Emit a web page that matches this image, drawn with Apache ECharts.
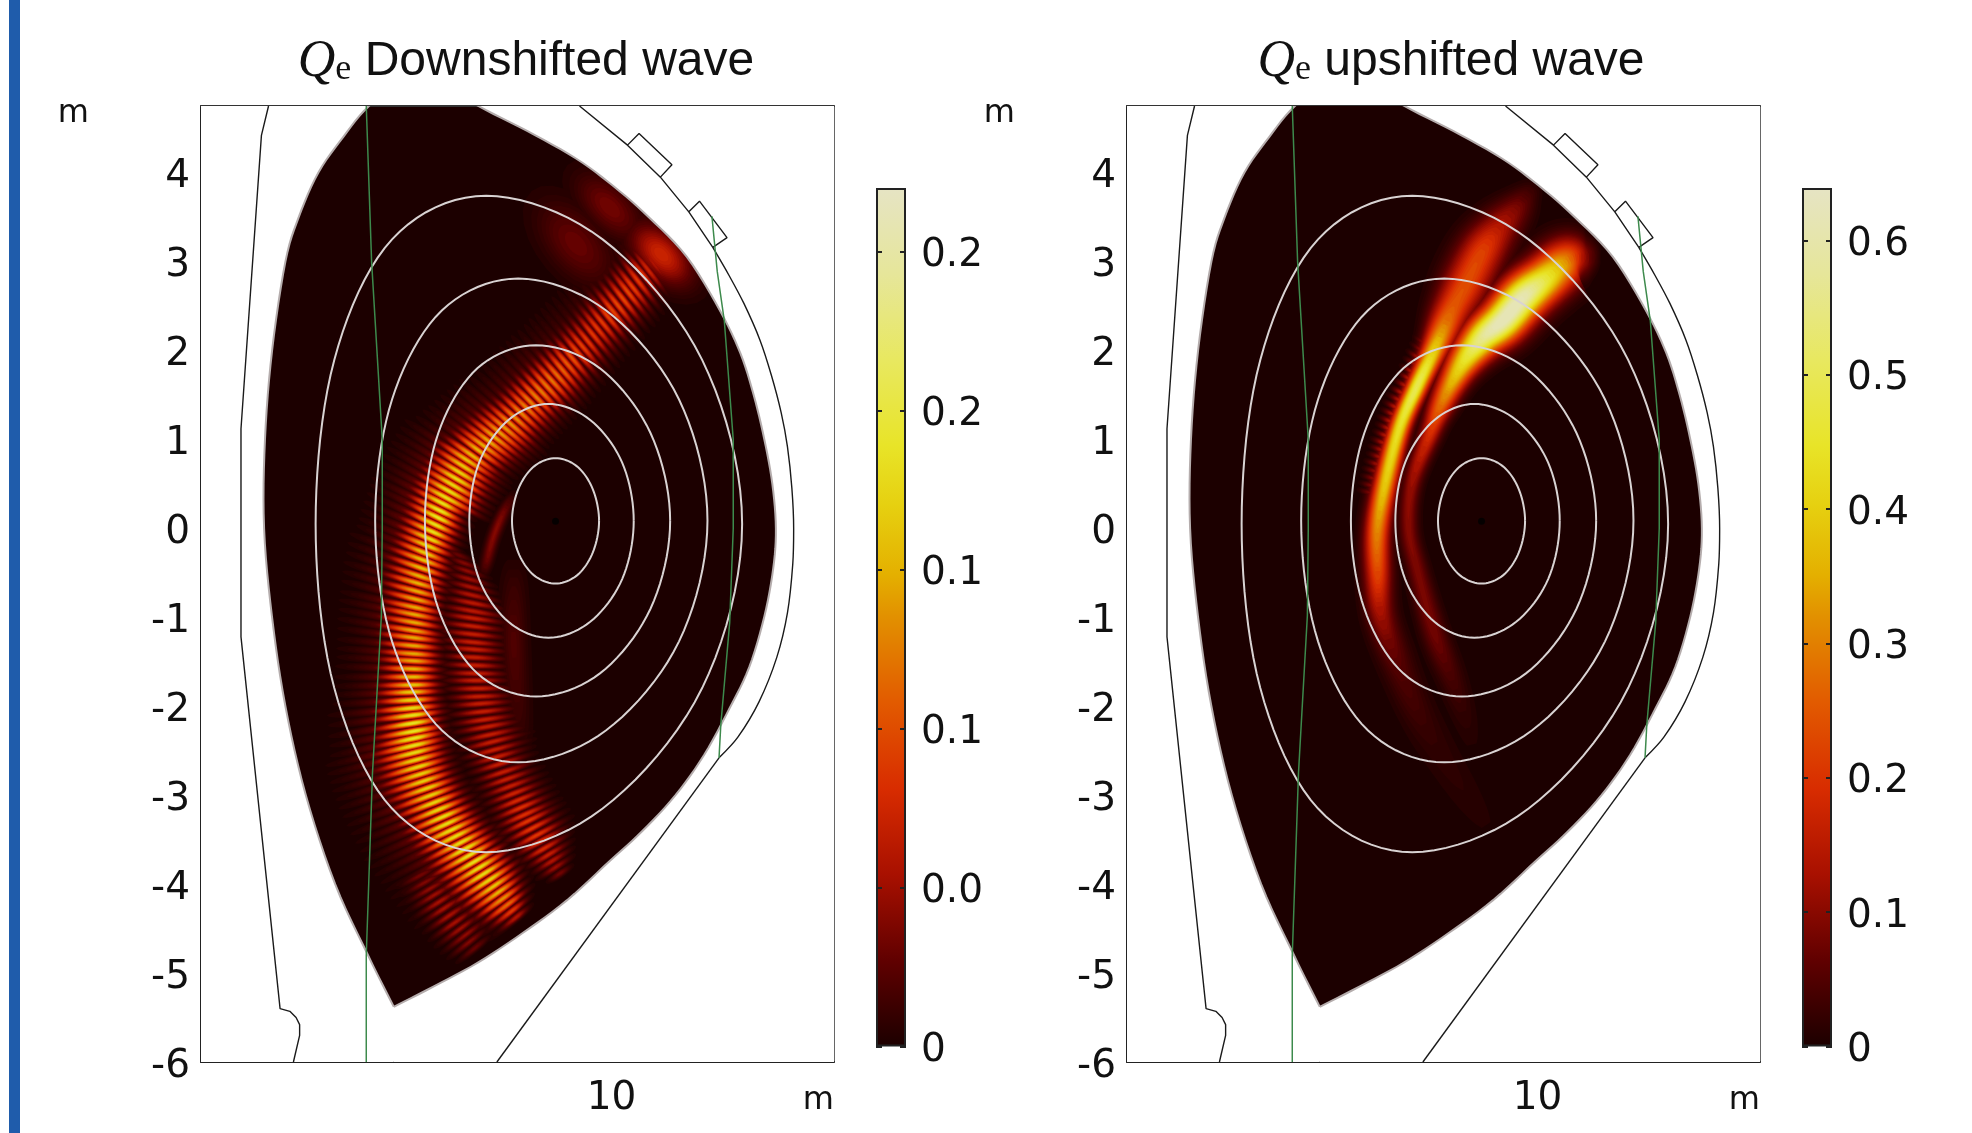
<!DOCTYPE html>
<html><head><meta charset="utf-8">
<style>html,body{margin:0;padding:0;background:#fff}#c{width:1972px;height:1133px}</style>
<script src="https://cdn.jsdelivr.net/npm/echarts@6/dist/echarts.min.js"></script>
</head><body><div id="c"></div>
<script>
// ---------- axis ticks ----------
const yTicks = [-6,-5,-4,-3,-2,-1,0,1,2,3,4];
const xTicks = [10];
const leftBarTicks = [0,0.05,0.1,0.15,0.2,0.25];
const leftBarLabels = ['0','0.0','0.1','0.1','0.2','0.2'];
const rightBarTicks = [0,0.1,0.2,0.3,0.4,0.5,0.6];
const rightBarLabels = ['0','0.1','0.2','0.3','0.4','0.5','0.6'];
const leftTitle = ' Downshifted wave';
const rightTitle = ' upshifted wave';

// ---------- colour scale [fraction, colour] ----------
const heatStops = [[0,'#1c0000'],[.1,'#600000'],[.2,'#a81000'],[.3,'#d82c00'],[.4,'#e25a00'],[.5,'#e29000'],[.55,'#e4b000'],[.63,'#e6d010'],[.7,'#e8e428'],[.8,'#e8e860'],[.9,'#e6e69a'],[1,'#e6e4c4']];

// ---------- geometry [R, Z] in metres ----------
const plasmaBoundary = [[7.55,-5.38],[7.26,-4.8],[6.89,-4],[6.56,-3],[6.33,-2],[6.18,-1],[6.09,0],[6.1,1],[6.18,2],[6.33,3],[6.48,3.5],[6.7,4],[6.98,4.4],[7.27,4.75],[7.75,5.12],[8.1,5],[8.5,4.75],[9.05,4.47],[9.6,4.16],[10.02,3.85],[10.42,3.5],[10.85,3.05],[11.22,2.45],[11.45,1.97],[11.6,1.5],[11.72,1],[11.81,.5],[11.85,0],[11.82,-.45],[11.72,-.99],[11.55,-1.56],[11.33,-2.02],[11.04,-2.55],[10.72,-3],[10.35,-3.4],[9.98,-3.74],[9.5,-4.18],[9,-4.55],[8.5,-4.88],[8,-5.15],[7.55,-5.38]];
const wallWithPorts = [[9.64,4.75],[10.18,4.31],[10.31,4.44],[10.68,4.09],[10.55,3.95],[10.18,4.31],[10.55,3.95],[10.87,3.56],[10.99,3.68],[11.3,3.27],[11.14,3.16],[10.87,3.56],[11.14,3.16]];
const wallCurve = [[11.14,3.16],[11.32,2.85],[11.49,2.53],[11.67,2.12],[11.8,1.72],[11.91,1.3],[11.98,.92],[12.03,.45],[12.05,0],[12.04,-.4],[11.98,-.95],[11.86,-1.45],[11.66,-1.95],[11.42,-2.35],[11.21,-2.58]];
const wallLower = [[11.21,-2.58],[8.71,-6]];
const innerWall = [[6.14,4.75],[6.06,4.42],[5.83,1.12],[5.83,0],[5.83,-1.22],[6.27,-5.4],[6.38,-5.43],[6.45,-5.5],[6.49,-5.58],[6.49,-5.7],[6.42,-6]];
const leftLeg = [[7.24,4.75],[7.3,3],[7.42,1],[7.42,0],[7.41,-.98],[7.31,-2.75],[7.24,-4.8],[7.24,-6]];
const rightLeg = [[11.13,3.51],[11.19,2.89],[11.27,2.33],[11.37,1],[11.37,0],[11.33,-1.06],[11.23,-2.21],[11.21,-2.58]];
const fluxOne = [[9.86,.085],[9.79,.44],[9.615,.695],[9.37,.79],[9.125,.695],[8.95,.44],[8.88,.085],[8.95,-.27],[9.125,-.525],[9.37,-.62],[9.615,-.525],[9.79,-.27]];
const fluxTwo = [[10.25,.085],[10.12,.74],[9.76,1.22],[9.29,1.4],[8.84,1.22],[8.51,.74],[8.4,.085],[8.51,-.57],[8.84,-1.05],[9.29,-1.23],[9.76,-1.05],[10.12,-.57]];
const fluxThree = [[10.66,.085],[10.44,1.07],[9.87,1.8],[9.15,2.06],[8.49,1.8],[8.05,1.07],[7.9,.085],[8.05,-.9],[8.49,-1.63],[9.15,-1.89],[9.87,-1.63],[10.44,-.9]];
const fluxFour = [[11.08,.09],[10.76,1.45],[9.94,2.45],[8.95,2.81],[8.09,2.45],[7.53,1.45],[7.34,.09],[7.53,-1.27],[8.09,-2.27],[8.95,-2.63],[9.94,-2.27],[10.76,-1.27]];
const fluxFive = [[11.47,.05],[11.02,1.895],[9.9,3.25],[8.59,3.74],[7.53,3.25],[6.88,1.895],[6.67,.05],[6.88,-1.795],[7.53,-3.15],[8.59,-3.64],[9.9,-3.15],[11.02,-1.795]];
const magneticAxis = [[9.37,.08]];

// ---------- downshifted wave: main fringes [R, Z, angle deg, half length m, Qe] ----------
const downMainFringes = [
[10.47,2.98,-52,.24,.06],[10.41,2.91,-52,.25,.075],[10.36,2.85,-52,.26,.085],[10.3,2.78,-52,.26,.09],[10.24,2.71,-52,.26,.095],[10.19,2.65,-52,.26,.1],[10.13,2.58,-52,.26,.1],[10.07,2.51,-52,.26,.1],[10.01,2.45,-51,.26,.098],[9.96,2.38,-51,.26,.095],[9.9,2.31,-51,.26,.092],[9.84,2.25,-51,.26,.09],[9.79,2.18,-51,.26,.09],[9.73,2.11,-51,.26,.09],[9.67,2.05,-50,.26,.095],[9.62,1.98,-50,.26,.1],[9.56,1.91,-50,.26,.105],[9.5,1.85,-50,.26,.11],
[9.45,1.78,-50,.26,.115],[9.39,1.72,-49,.26,.12],[9.33,1.66,-48,.26,.125],[9.27,1.6,-48,.26,.125],[9.21,1.54,-47,.26,.128],[9.15,1.48,-46,.26,.13],[9.09,1.42,-45,.26,.13],[9.04,1.36,-44,.26,.13],[8.98,1.3,-43,.26,.132],[8.92,1.24,-42,.26,.135],
[8.86,1.18,-41,.28,.14],[8.8,1.13,-40,.28,.14],[8.74,1.08,-39,.28,.145],[8.68,1.03,-38,.28,.15],[8.62,.98,-37,.28,.15],[8.56,.93,-36,.28,.15],[8.5,.88,-36,.28,.155],[8.43,.82,-35,.28,.155],
[8.37,.77,-33,.3,.16],[8.33,.7,-32,.3,.165],[8.29,.63,-31,.3,.17],[8.25,.56,-30,.3,.175],[8.21,.49,-30,.3,.175],[8.17,.42,-29,.3,.18],[8.13,.35,-28,.3,.18],
[8.1,.28,-27,.3,.185],[8.07,.2,-26,.3,.19],[8.05,.12,-26,.3,.19],[8.02,.04,-25,.3,.185],[7.99,-.04,-24,.3,.185],[7.96,-.12,-23,.3,.18],[7.94,-.2,-22,.3,.175],[7.91,-.28,-22,.3,.17],
[7.89,-.36,-20,.32,.165],[7.87,-.45,-19,.32,.16],[7.85,-.54,-18,.32,.155],[7.83,-.62,-16,.32,.155],[7.82,-.71,-15,.32,.15],[7.81,-.8,-14,.32,.15],[7.8,-.89,-12,.32,.15],[7.79,-.97,-11,.32,.15],[7.79,-1.06,-10,.32,.15],[7.78,-1.15,-9,.32,.15],[7.78,-1.23,-7,.32,.15],[7.78,-1.32,-5,.32,.15],[7.78,-1.41,-4,.32,.15],[7.78,-1.49,-3,.32,.15],[7.77,-1.58,-2,.32,.155],[7.77,-1.67,0,.32,.16],[7.77,-1.76,1,.32,.165],[7.76,-1.84,2,.32,.17],[7.76,-1.93,3,.32,.175],[7.76,-2.02,5,.34,.18],[7.77,-2.1,7,.34,.185],[7.77,-2.19,9,.34,.19],[7.78,-2.28,10,.34,.19],[7.78,-2.36,12,.34,.19],
[7.78,-2.44,13,.36,.185],[7.79,-2.52,14,.36,.18],[7.81,-2.6,15,.36,.175],[7.83,-2.68,16,.36,.175],[7.86,-2.76,17,.36,.17],[7.89,-2.84,18,.36,.17],[7.93,-2.92,19,.36,.17],[7.97,-3,20,.36,.17],[8.01,-3.08,21,.36,.175],[8.06,-3.16,22,.36,.175],[8.11,-3.24,23,.36,.18],[8.15,-3.32,24,.36,.18],[8.2,-3.39,25,.36,.18],[8.25,-3.46,26,.36,.18],[8.31,-3.53,27,.36,.18],[8.36,-3.6,28,.36,.185],[8.41,-3.67,29,.36,.185],[8.47,-3.74,30,.36,.185],[8.52,-3.81,31,.36,.18],[8.57,-3.88,32,.36,.18],[8.63,-3.95,33,.36,.175],[8.68,-4.02,34,.34,.165],[8.73,-4.09,35,.32,.155],[8.78,-4.16,36,.3,.14],[8.83,-4.23,37,.28,.12],[8.88,-4.3,38,.24,.09],[8.93,-4.37,39,.2,.06]];
// downshifted wave: faint tail of the lower fringes
const downTailFringes = [[7.85,-3.9,28,.2,.035],[7.9,-3.98,29,.2,.04],[7.96,-4.05,30,.22,.045],[8.01,-4.12,31,.22,.05],[8.06,-4.2,32,.22,.055],[8.12,-4.27,33,.22,.055],[8.18,-4.35,34,.22,.055],[8.24,-4.43,35,.22,.055],[8.3,-4.5,36,.22,.05],[8.36,-4.57,37,.22,.045],[8.4,-4.65,38,.2,.04],[8.46,-4.72,39,.18,.03]];
// downshifted wave: secondary lobe fringes
const downSecondFringes = [
[8.28,-.3,-22,.14,.03],[8.34,-.39,-20,.16,.04],[8.38,-.48,-18,.18,.045],[8.4,-.57,-16,.2,.05],[8.42,-.66,-14,.22,.055],[8.43,-.75,-13,.24,.06],[8.44,-.84,-11,.26,.065],[8.44,-.93,-10,.28,.065],[8.44,-1.01,-8,.28,.07],[8.44,-1.1,-7,.28,.07],[8.44,-1.19,-6,.28,.07],[8.44,-1.28,-5,.28,.07],[8.45,-1.36,-4,.28,.07],[8.45,-1.45,-3,.28,.07],[8.46,-1.54,-2,.28,.07],[8.47,-1.63,-1,.28,.07],[8.48,-1.71,0,.28,.07],[8.5,-1.8,1,.28,.07],[8.51,-1.89,2,.28,.07],[8.53,-1.97,4,.28,.07],[8.55,-2.06,6,.28,.07],[8.57,-2.15,8,.28,.07],[8.6,-2.23,10,.28,.07],[8.63,-2.32,12,.28,.07],[8.66,-2.4,14,.28,.07],[8.68,-2.49,15,.28,.07],[8.71,-2.57,16,.26,.07],[8.74,-2.65,17,.26,.07],[8.78,-2.74,18,.26,.07],[8.82,-2.82,19,.26,.07],[8.86,-2.9,20,.26,.07],[8.9,-2.98,21,.26,.075],[8.94,-3.06,22,.26,.08],[8.98,-3.14,23,.26,.085],[9.02,-3.22,24,.26,.085],[9.06,-3.29,26,.26,.09],[9.11,-3.37,27,.26,.09],[9.16,-3.45,28,.26,.09],[9.2,-3.52,29,.24,.085],[9.24,-3.6,30,.22,.08],[9.29,-3.67,31,.2,.07],[9.33,-3.74,32,.18,.06],[9.37,-3.81,33,.16,.05],[9.42,-3.88,34,.12,.035]];
// downshifted wave: soft patches near the top [R, Z, angle, half length, half width, Qe]
const downPatches = [[10.56,3.08,-45,.38,.22,.075],[9.98,3.61,-45,.42,.22,.035],[9.6,3.2,-50,.5,.28,.03]];
// streaks [R, Z, half width, Qe]
const downInnerStreak = [[8.55,-.55,.06,.003],[8.6,-.36,.06,.03],[8.67,-.1,.06,.04],[8.78,.17,.06,.035],[8.92,.42,.05,.003]];
const downGlow = [[8.9,-.3,.14,.002],[8.9,-.7,.14,.012],[8.9,-1.3,.14,.02],[8.95,-2.1,.14,.012],[9,-2.6,.14,.002]];

// ---------- upshifted wave ridges [R, Z, half width, Qe] ----------
const upHotRidge = [[9.3,-2.6,.14,.003],[9.2,-2.2,.14,.015],[9.04,-1.71,.14,.04],[8.84,-1.18,.13,.08],[8.65,-.48,.11,.09],[8.55,0,.1,.1],[8.59,.52,.1,.12],[8.79,1.07,.11,.2],[8.9,1.36,.13,.28],[9.05,1.67,.15,.38],[9.2,1.92,.18,.47],[9.39,2.15,.21,.58],[9.61,2.34,.23,.64],[9.84,2.6,.24,.62],[10.07,2.79,.24,.5],[10.36,3.02,.25,.3],[10.56,3.05,.2,.1],[10.72,3.05,.14,.003]];
const upOuterRidge = [[9.6,-3.6,.2,.003],[9.2,-3,.2,.012],[8.84,-2.42,.2,.02],[8.62,-2,.18,.035],[8.42,-1.51,.17,.06],[8.24,-.98,.15,.13],[8.2,-.48,.14,.24],[8.2,0,.13,.32],[8.29,.52,.12,.4],[8.45,1.14,.11,.45],[8.64,1.59,.11,.5],[8.82,1.97,.13,.42],[9.02,2.42,.2,.27],[9.2,2.76,.24,.24],[9.39,3.13,.24,.22],[9.58,3.39,.22,.15],[9.77,3.61,.18,.09],[9.9,3.77,.14,.04],[10.02,3.9,.1,.003]];
const upRipples = [[8.12,.4,-15,.1,.09],[8.14,.48,-15,.1,.1],[8.16,.56,-16,.1,.105],[8.18,.64,-17,.1,.11],[8.2,.72,-18,.1,.12],[8.23,.8,-19,.1,.13],[8.25,.88,-20,.1,.135],[8.27,.96,-21,.1,.14],[8.3,1.04,-22,.1,.15],[8.33,1.12,-23,.1,.15],[8.35,1.2,-24,.1,.15],[8.38,1.28,-25,.1,.15],[8.41,1.36,-26,.1,.15],[8.45,1.44,-27,.1,.15],[8.48,1.52,-28,.1,.15],[8.52,1.6,-29,.1,.15],[8.56,1.68,-30,.1,.15],[8.59,1.76,-31,.1,.145],[8.63,1.84,-32,.1,.135],[8.66,1.92,-33,.1,.13],[8.7,2,-34,.1,.12],[8.73,2.08,-35,.1,.12],[8.77,2.16,-36,.1,.115],[8.8,2.24,-37,.1,.115],[8.84,2.32,-38,.1,.11],[8.87,2.4,-39,.1,.11],[8.9,2.48,-40,.1,.1],[8.93,2.56,-41,.1,.1],[8.96,2.64,-42,.1,.1],[9,2.72,-43,.1,.1],[9.03,2.8,-44,.1,.09],[9.07,2.88,-45,.1,.09],[9.11,2.96,-46,.1,.09],[9.15,3.04,-47,.1,.085],[9.2,3.12,-48,.1,.075],[9.24,3.2,-49,.1,.07],[9.29,3.28,-50,.1,.06],[9.34,3.36,-50,.1,.055],[9.4,3.44,-50,.1,.045],[9.45,3.52,-50,.1,.04]];

// ---------- rendering ----------
const fringeWidth = 0.034;
const levelFractions = [.01,.02,.03,.04,.05,.06,.07,.085,.1,.115,.13,.145,.16,.18,.2,.22,.24,.26,.28,.3,.32,.34,.36,.38,.4,.42,.44,.46,.48,.5,.52,.54,.56,.58,.6,.62,.64,.66,.68,.7,.72,.74,.76,.78,.8,.82,.84,.86,.88,.9,.92,.94,.96];
function hex(c){return [1,3,5].map(i=>parseInt(c.substr(i,2),16));}
function heat(t){
  for(let i=1;i<heatStops.length;i++){
    if(t<=heatStops[i][0]){
      const a=heatStops[i-1],b=heatStops[i],f=(t-a[0])/(b[0]-a[0]),A=hex(a[1]),B=hex(b[1]);
      return 'rgb('+A.map((v,k)=>Math.round(v+(B[k]-v)*f)).join(',')+')';
    }
  }
  return heatStops[heatStops.length-1][1];
}
function spline(pts,sub){
  const out=[],n=pts.length;
  for(let i=0;i<n-1;i++){
    const p0=pts[Math.max(i-1,0)],p1=pts[i],p2=pts[i+1],p3=pts[Math.min(i+2,n-1)];
    for(let s=0;s<sub;s++){
      const t=s/sub,t2=t*t,t3=t2*t;
      out.push(p1.map((_,k)=>.5*(2*p1[k]+(p2[k]-p0[k])*t+(2*p0[k]-5*p1[k]+4*p2[k]-p3[k])*t2+(3*p1[k]-p0[k]-3*p2[k]+p3[k])*t3)));
    }
  }
  out.push(pts[n-1].slice());
  return out;
}
function closedSpline(pts,sub){
  const n=pts.length,wrapped=[pts[n-1],...pts,pts[0],pts[1]];
  const s=spline(wrapped,sub);
  return s.slice(sub,sub*(n+1)+1);
}
function ellipseShape(f,L){
  const v=f.v; if(v<=L) return null;
  const k=Math.sqrt(Math.log(v/L)),n=f.b*k,sR=f.a*k*(f.skirt&&f.Z<.3?.72:1);
  let sL=f.a*k;
  if(f.skirt){const sv=.25*v; if(L<sv) sL=Math.max(sL,1.7*f.a*Math.sqrt(Math.log(sv/L)));}
  const c=Math.cos(f.ang*Math.PI/180),s=Math.sin(f.ang*Math.PI/180),pts=[];
  for(let i=0;i<24;i++){
    const th=i/24*2*Math.PI,x=Math.cos(th)*(Math.cos(th)<0?sL:sR),y=Math.sin(th)*n;
    pts.push([f.R+x*c-y*s,f.Z+x*s+y*c]);
  }
  return [pts];
}
function ridgeShape(f,L){
  const runs=[];let run=[];
  const S=f.samples;
  for(let i=0;i<S.length;i++){
    if(S[i][3]>L) run.push(i); else {if(run.length>1) runs.push(run); run=[];}
  }
  if(run.length>1) runs.push(run);
  return runs.map(r=>{
    const up=[],dn=[];
    r.forEach(i=>{
      const a=S[Math.max(i-1,0)],b=S[Math.min(i+1,S.length-1)];
      let tx=b[0]-a[0],tz=b[1]-a[1];const len=Math.hypot(tx,tz)||1;tx/=len;tz/=len;
      const h=S[i][2]*Math.sqrt(Math.log(S[i][3]/L));
      up.push([S[i][0]-tz*h,S[i][1]+tx*h]);dn.push([S[i][0]+tz*h,S[i][1]-tx*h]);
    });
    return up.concat(dn.reverse());
  });
}
const asFringes=(rows,skirt)=>rows.map(r=>({kind:'e',R:r[0],Z:r[1],ang:r[2],a:r[3],b:fringeWidth,v:r[4],skirt}));
const asPatches=rows=>rows.map(r=>({kind:'e',R:r[0],Z:r[1],ang:r[2],a:r[3],b:r[4],v:r[5],skirt:false}));
const asRidge=rows=>({kind:'r',R:rows[0][0],Z:rows[0][1],samples:spline(rows,10)});
const panels=[
 {max:.27,features:[...asPatches(downPatches),asRidge(downGlow),asRidge(downInnerStreak),...asFringes(downTailFringes,false),...asFringes(downSecondFringes,false),...asFringes(downMainFringes,true)]},
 {max:.639,features:[asRidge(upOuterRidge),asRidge(upHotRidge),...asFringes(upRipples,false)]}
];
const smoothBoundary=spline(plasmaBoundary,6);
const series=[];
let zc=2;
panels.forEach((p,pi)=>{
  const ax={xAxisIndex:pi*2,yAxisIndex:pi*2};
  series.push({type:'custom',...ax,z:zc++,silent:true,clip:true,data:[plasmaBoundary[0]],
    renderItem:(par,api)=>({type:'polygon',shape:{points:smoothBoundary.map(q=>api.coord(q))},style:{fill:heatStops[0][1]}})});
  levelFractions.forEach(t=>{
    const L=t*p.max,fill=heat(t+.005);
    series.push({type:'custom',...ax,z:zc++,silent:true,clip:true,
      data:p.features.map(f=>[f.R,f.Z]),
      renderItem:(par,api)=>{
        const f=p.features[par.dataIndex];
        const shapes=f.kind==='e'?ellipseShape(f,L):ridgeShape(f,L);
        if(!shapes||!shapes.length) return null;
        return {type:'group',children:shapes.map(s=>({type:'polygon',shape:{points:s.map(q=>api.coord(q))},style:{fill}}))};
      }});
  });
  series.push({type:'custom',...ax,z:zc++,silent:true,clip:true,data:[plasmaBoundary[0]],
    renderItem:(par,api)=>{
      const x0=plasmaBoundary[0][0];
      const ring=[[x0,-6.5],[13,-6.5],[13,6],[5,6],[5,-6.5],[x0,-6.5]].concat(smoothBoundary);
      return {type:'polygon',shape:{points:ring.map(q=>api.coord(q))},style:{fill:'#fff'}};
    }});
  const line=(data,color,width,smooth)=>({type:'line',...ax,z:zc++,silent:true,data,symbol:'none',smooth,clip:true,lineStyle:{color,width},animation:false});
  series.push({type:'custom',...ax,z:zc++,silent:true,clip:true,data:[plasmaBoundary[0]],
    renderItem:(par,api)=>({type:'polyline',shape:{points:smoothBoundary.map(q=>api.coord(q))},style:{fill:null,stroke:'#b5adad',lineWidth:2}})});
  [fluxOne,fluxTwo,fluxThree,fluxFour,fluxFive].forEach(d=>series.push({type:'custom',...ax,z:zc++,silent:true,clip:true,data:d,
    renderItem:(par,api)=>par.dataIndex?null:({type:'polyline',shape:{points:closedSpline(d,10).map(q=>api.coord(q))},style:{fill:null,stroke:'#d9d3d3',lineWidth:2}})}));
  series.push(line(wallWithPorts,'#1a1a1a',1.4,false));
  series.push(line(wallCurve,'#1a1a1a',1.4,.3));
  series.push(line(wallLower,'#1a1a1a',1.4,false));
  series.push(line(innerWall,'#1a1a1a',1.4,false));
  series.push(line(leftLeg,'#3d8a4c',1.5,false));
  series.push(line(rightLeg,'#3d8a4c',1.5,false));
  series.push({type:'scatter',...ax,z:zc++,silent:true,data:magneticAxis,symbolSize:7,itemStyle:{color:'#000'}});
});
const grad=new echarts.graphic.LinearGradient(0,1,0,0,heatStops.map(s=>({offset:s[0],color:s[1]})));
const barMaxes=[.27,.639];
barMaxes.forEach((m,i)=>series.push({type:'bar',xAxisIndex:4+i,yAxisIndex:4+i*2,data:[m],barWidth:'100%',silent:true,z:3,itemStyle:{color:grad,borderColor:'#222',borderWidth:2}}));

const frame={lineStyle:{color:'#222',width:2}};
const tick=(vals,len)=>({show:true,inside:true,length:len,customValues:vals,lineStyle:{color:'#222',width:2}});
const font={fontFamily:'DejaVu Sans',fontSize:39,color:'#111'};
const lowered={a:{...font,padding:[9,0,0,0]}};
const mkX=g=>[
 {gridIndex:g,type:'value',z:50,min:5.38,max:12.504,position:'bottom',name:'m',nameLocation:'end',nameGap:0,
  nameTextStyle:{fontFamily:'DejaVu Sans',fontSize:32,color:'#111',align:'right',verticalAlign:'top',padding:[23,0,0,0]},
  axisLine:{show:true,onZero:false,...frame},axisTick:tick(xTicks,12),axisLabel:{show:true,customValues:xTicks,margin:17,...font},splitLine:{show:false}},
 {gridIndex:g,type:'value',z:50,min:5.38,max:12.504,position:'top',axisLine:{show:true,onZero:false,lineStyle:{color:'#333',width:2}},axisTick:tick(xTicks,11),axisLabel:{show:false},splitLine:{show:false}}];
const mkY=g=>[
 {gridIndex:g,type:'value',z:50,min:-6,max:4.75,position:'left',name:'m',nameLocation:'end',nameGap:-8,
  nameTextStyle:{fontFamily:'DejaVu Sans',fontSize:32,color:'#111',align:'right',verticalAlign:'middle',padding:[0,112,0,0]},
  axisLine:{show:true,onZero:false,...frame},axisTick:tick(yTicks,11),axisLabel:{show:true,customValues:yTicks,margin:11,...font,formatter:v=>'{a|'+v+'}',rich:lowered},splitLine:{show:false}},
 {gridIndex:g,type:'value',z:50,min:-6,max:4.75,position:'right',axisLine:{show:true,onZero:false,lineStyle:{color:'#333',width:1.5}},axisTick:tick(yTicks,11),axisLabel:{show:false},splitLine:{show:false}}];
const mkBarY=(g,m,vals,labs)=>[
 {gridIndex:g,type:'value',z:50,min:0,max:m,position:'left',axisLine:{show:false},axisTick:tick(vals,6),axisLabel:{show:false},splitLine:{show:false}},
 {gridIndex:g,type:'value',z:50,min:0,max:m,position:'right',axisLine:{show:false},axisTick:tick(vals,6),axisLabel:{show:true,customValues:vals,margin:15,...font,rich:lowered,formatter:v=>'{a|'+labs[vals.findIndex(x=>Math.abs(x-v)<1e-6)]+'}'},splitLine:{show:false}}];
const mkBarX=g=>({gridIndex:g,type:'category',data:['Qe'],show:false});

const titleRich={q:{fontFamily:'Liberation Serif',fontStyle:'italic',fontWeight:'normal',fontSize:52,color:'#111'},e:{fontFamily:'Liberation Serif',fontWeight:'normal',fontSize:36,color:'#111',padding:[16,0,0,0]},t:{fontFamily:'Liberation Sans',fontWeight:'normal',fontSize:48,color:'#111'}};
const option={
 animation:false,backgroundColor:'#fff',
 title:[
  {text:'{q|Q}{e|e}{t|'+leftTitle+'}',left:521,top:31,textAlign:'center',textStyle:{fontWeight:'normal',rich:titleRich}},
  {text:'{q|Q}{e|e}{t|'+rightTitle+'}',left:1446,top:31,textAlign:'center',textStyle:{fontWeight:'normal',rich:titleRich}}],
 grid:[
  {left:201,top:106,width:633,height:956},
  {left:1127,top:106,width:633,height:956},
  {left:876,top:188,width:30,height:858.5},
  {left:1802,top:188,width:30,height:858.5}],
 xAxis:[...mkX(0),...mkX(1),mkBarX(2),mkBarX(3)],
 yAxis:[...mkY(0),...mkY(1),...mkBarY(2,.27,leftBarTicks,leftBarLabels),...mkBarY(3,.639,rightBarTicks,rightBarLabels)],
 graphic:[{type:'rect',left:9,top:0,shape:{width:11,height:1133},style:{fill:'#1f5cab'},z:100}],
 series
};
const chart=echarts.init(document.getElementById('c'),null,{renderer:'canvas',width:1972,height:1133});
chart.setOption(option);
</script></body></html>
